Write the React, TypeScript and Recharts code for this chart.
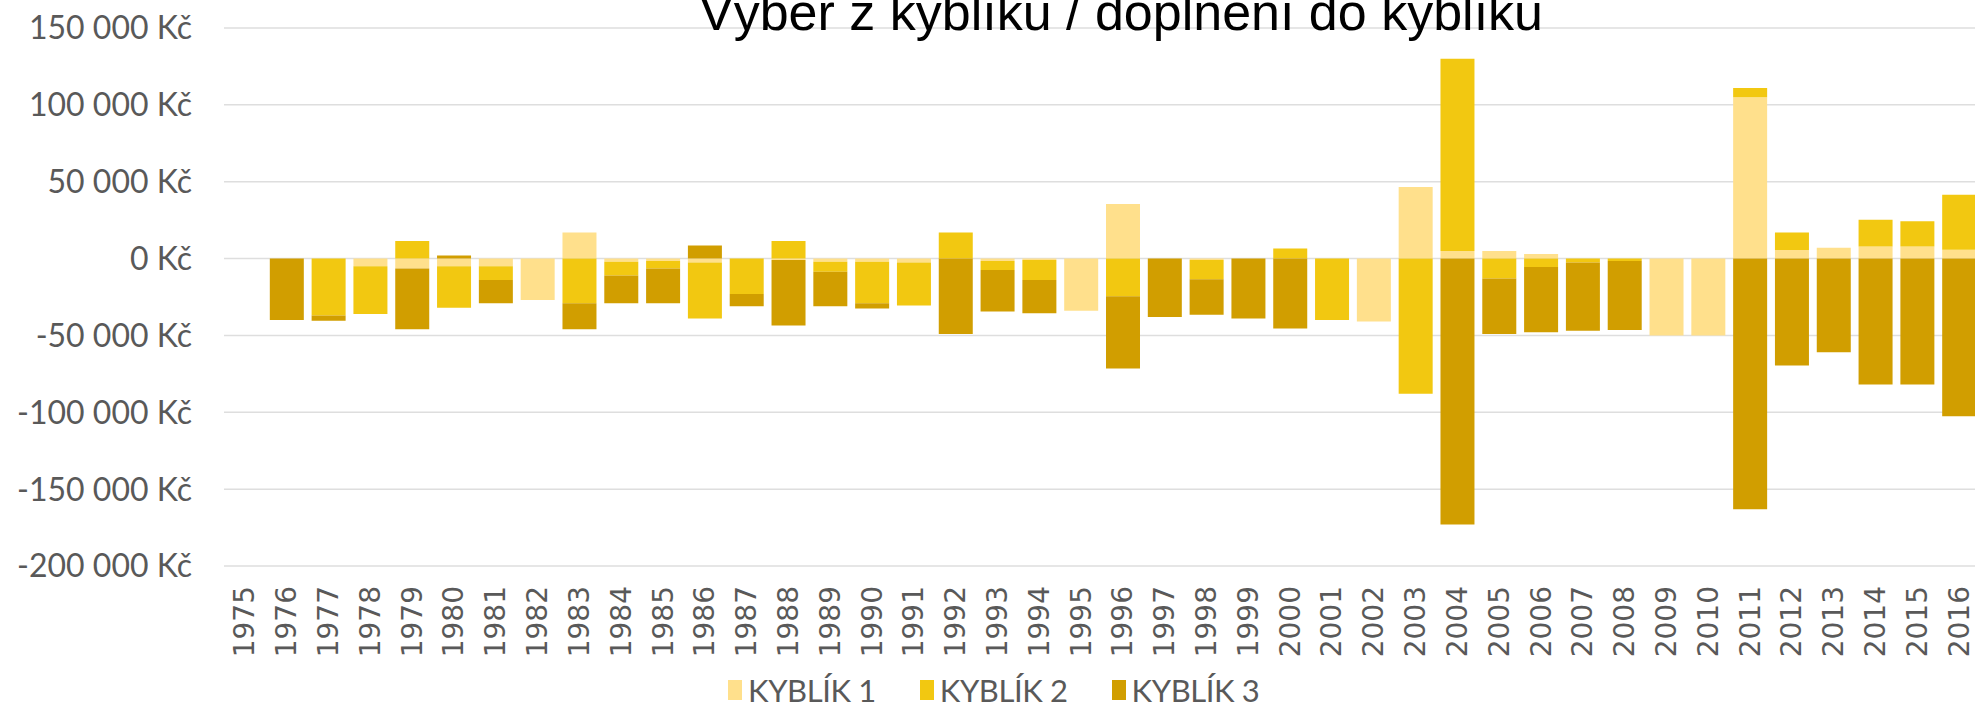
import { Bar, BarChart, CartesianGrid, XAxis, YAxis } from 'recharts'

const years = [
  '1975', '1976', '1977', '1978', '1979', '1980', '1981', '1982', '1983', '1984', '1985', '1986', '1987', '1988',
  '1989', '1990', '1991', '1992', '1993', '1994', '1995', '1996', '1997', '1998', '1999', '2000', '2001', '2002',
  '2003', '2004', '2005', '2006', '2007', '2008', '2009', '2010', '2011', '2012', '2013', '2014', '2015', '2016',
]

const kyblik1 = [
  0, 0, 0, -5000, -6500, -5000, -5000, -27000, 17000, -2000, -1500, -2500, 0, -1000,
  -2000, -2000, -2500, 0, -1500, -1000, -34000, 35500, 0, -1000, 0, 0, 0, -41000,
  46500, 5000, 5000, 3000, 0, 0, -50000, -50000, 105000, 5500, 7000, 7800, 7800, 5800,
]

const kyblik2 = [
  0, 0, -37000, -31000, 11500, -27000, -9000, 0, -29000, -9000, -5000, -36500, -23000, 11500,
  -6500, -27000, -28000, 17000, -6000, -13000, 0, -24500, 0, -12500, 0, 6500, -40000, 0,
  -88000, 125000, -13000, -5500, -2500, -1500, 0, 0, 6000, 11500, 0, 17500, 16500, 35800,
]

const kyblik3 = [
  0, -40000, -3500, 0, -39500, 2000, -15000, 0, -17000, -18000, -22500, 8500, -8000, -42500,
  -22500, -3500, 0, -49000, -27000, -21500, 0, -47000, -38000, -23000, -39000, -45500, 0, 0,
  0, -173000, -36000, -42500, -44500, -45000, 0, 0, -163000, -69500, -61000, -82000, -82000, -102500,
]

const yTicks = [-200000, -150000, -100000, -50000, 0, 50000, 100000, 150000]

const seriesNames = ['KYBLÍK 1', 'KYBLÍK 2', 'KYBLÍK 3']
const seriesColors = ['#FFE08C', '#F2C811', '#D19E00']

const data = years.map((year, i) => ({
  year,
  k1: kyblik1[i],
  k2: kyblik2[i],
  k3: kyblik3[i],
}))

function formatKc(value: number) {
  const sign = value < 0 ? '-' : ''
  const digits = String(Math.abs(value)).replace(/\B(?=(\d{3})+(?!\d))/g, ' ')
  return `${sign}${digits} Kč`
}

function YearTick({ x, y, payload }: any) {
  return (
    <g transform={`translate(${x},${y})`}>
      <text
        transform="rotate(-90)"
        textAnchor="end"
        dominantBaseline="central"
        fontFamily="DejaVu Sans"
        fontSize={28}
        fill="#595959"
      >
        {payload.value}
      </text>
    </g>
  )
}

export default function App() {
  return (
    <div style={{ position: 'absolute', left: 0, top: 0, width: 1975, height: 712, overflow: 'hidden', background: '#fff' }}>
      <BarChart
        width={2010}
        height={712}
        data={data}
        stackOffset="sign"
        barSize={34}
        margin={{ top: 28, right: 30, left: 0, bottom: 0 }}
      >
        <CartesianGrid vertical={false} stroke="#dedede" strokeWidth={1.5} />
        <XAxis
          dataKey="year"
          height={146}
          interval={0}
          axisLine={false}
          tickLine={false}
          tickSize={0}
          tickMargin={20}
          tick={<YearTick />}
        />
        <YAxis
          width={224}
          domain={[-200000, 150000]}
          ticks={yTicks}
          axisLine={false}
          tickLine={false}
          tickSize={0}
          tickMargin={32}
          tickFormatter={formatKc}
          tick={{ fontFamily: 'Lato', fontSize: 32, fill: '#595959' }}
        />
        <Bar dataKey="k1" name={seriesNames[0]} stackId="a" fill={seriesColors[0]} isAnimationActive={false} />
        <Bar dataKey="k2" name={seriesNames[1]} stackId="a" fill={seriesColors[1]} isAnimationActive={false} />
        <Bar dataKey="k3" name={seriesNames[2]} stackId="a" fill={seriesColors[2]} isAnimationActive={false} />
      </BarChart>
      <div
        style={{
          position: 'absolute',
          left: 521,
          top: -14,
          width: 1200,
          textAlign: 'center',
          fontFamily: 'Liberation Sans',
          fontSize: 52,
          lineHeight: '52px',
          color: '#000',
          whiteSpace: 'nowrap',
        }}
      >
        Výběr z kyblíku / doplnění do kyblíku
      </div>
      <div
        style={{
          position: 'absolute',
          left: 728,
          top: 672,
          display: 'flex',
          alignItems: 'center',
          gap: 44,
          fontFamily: 'Lato',
          fontSize: 31,
          lineHeight: '36px',
          letterSpacing: -0.4,
          color: '#595959',
          whiteSpace: 'nowrap',
        }}
      >
        {seriesNames.map((name, i) => (
          <div key={name} style={{ display: 'flex', alignItems: 'center', gap: 6 }}>
            <span style={{ display: 'inline-block', width: 14, height: 20, background: seriesColors[i] }} />
            <span>{name}</span>
          </div>
        ))}
      </div>
    </div>
  )
}
